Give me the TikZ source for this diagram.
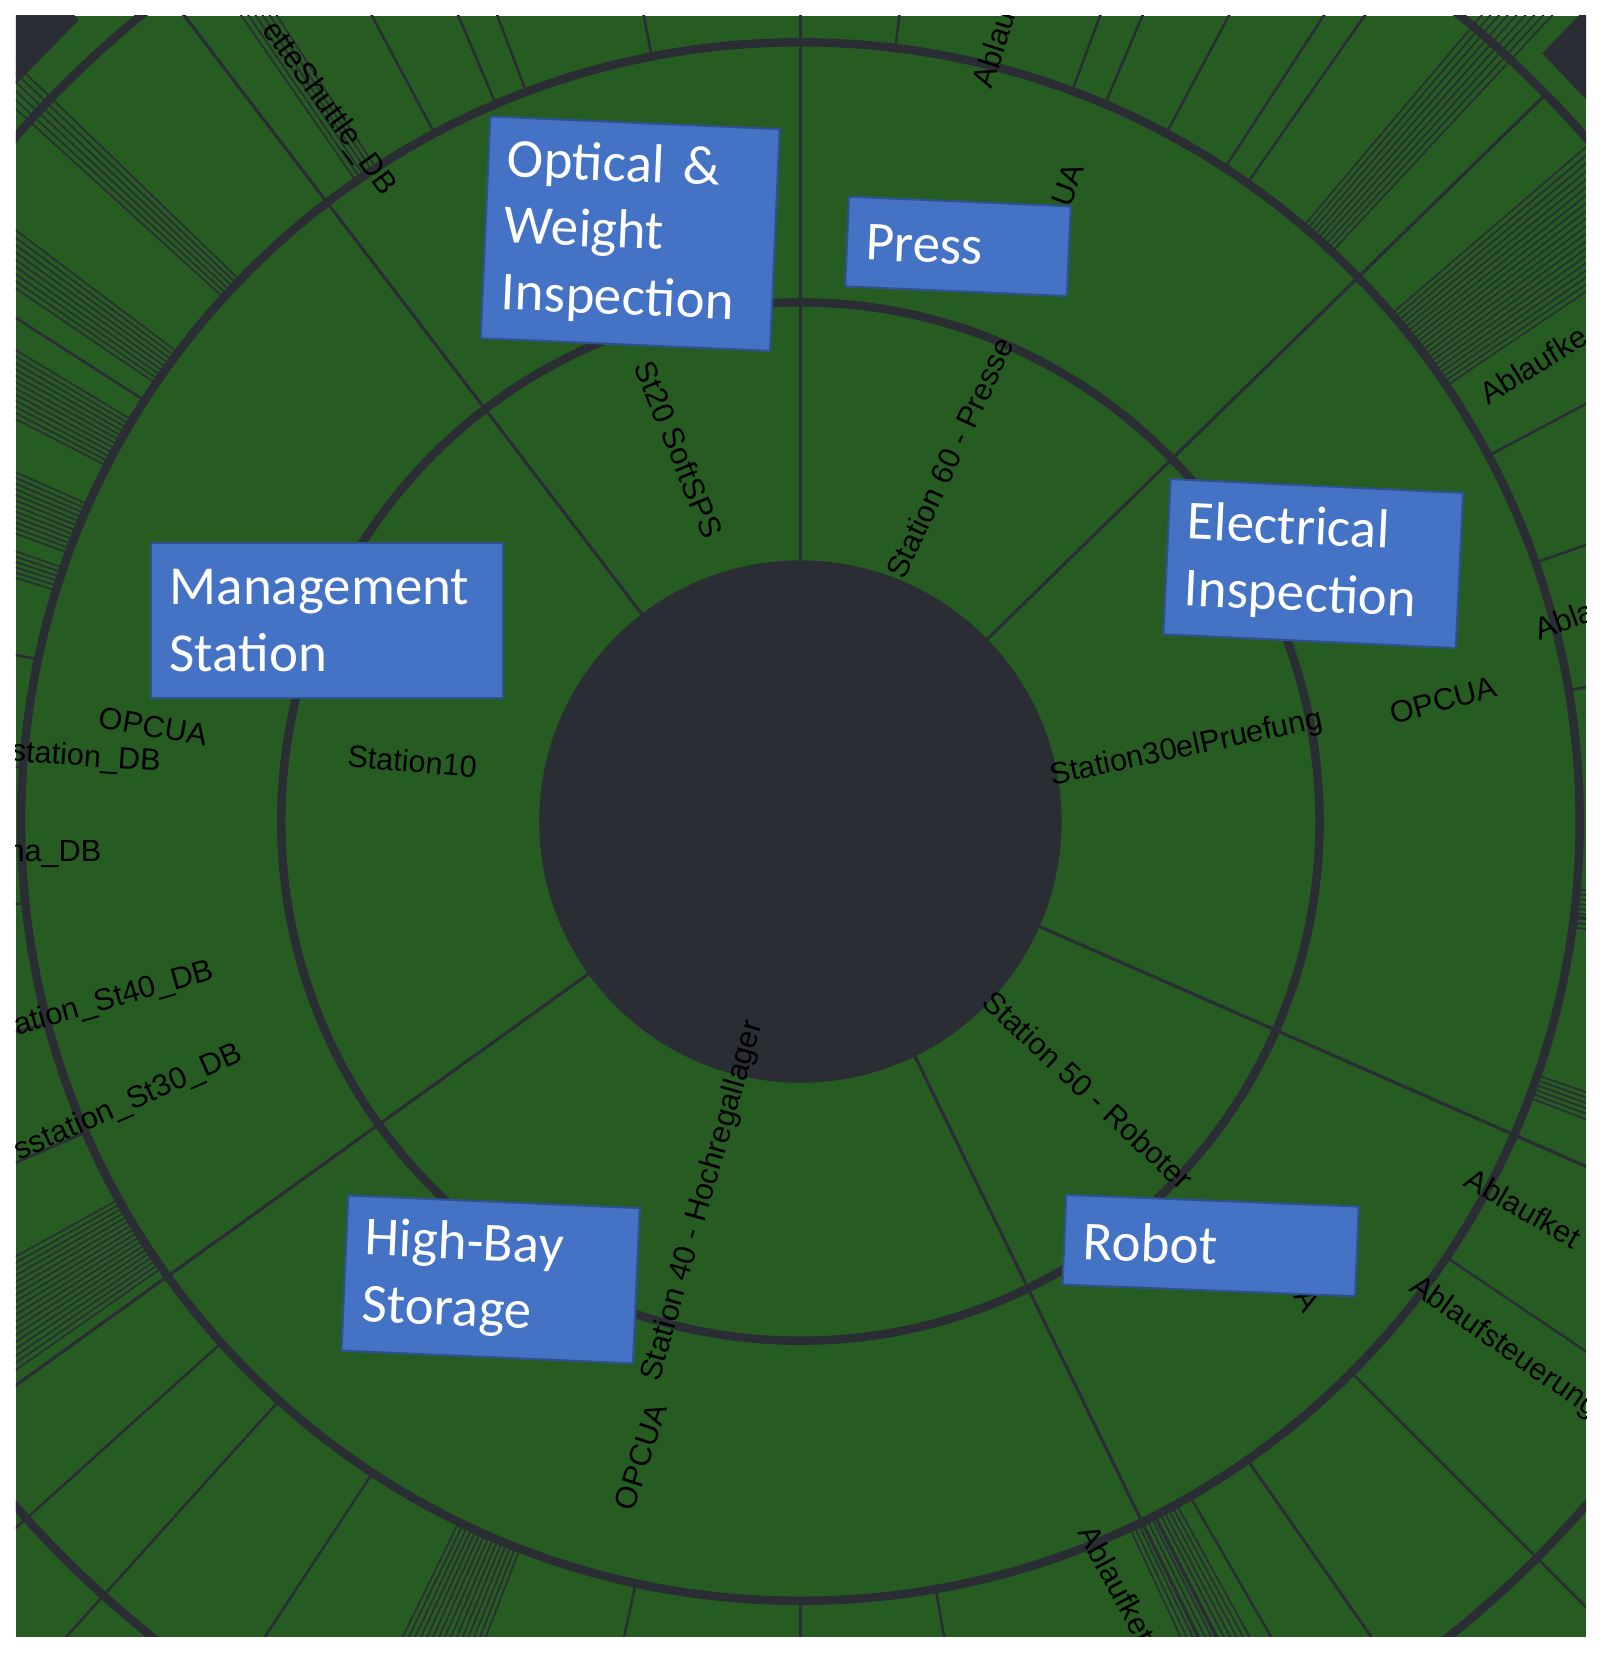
\documentclass[tikz,border=0pt]{standalone}
\usepackage{fontspec}
\setmainfont{Liberation Sans}
\newfontfamily\boxfont{Carlito}
\definecolor{gr}{HTML}{265C22}
\definecolor{dk}{HTML}{2A2D34}
\definecolor{bl}{HTML}{4472C4}
\definecolor{bb}{HTML}{2F528F}
\begin{document}
\begin{tikzpicture}[x=1pt,y=-1pt,
  ring/.style={draw=dk,line width=8pt},
  div/.style={draw=dk,line width=3pt},
  thin/.style={draw=dk,line width=2.4pt},
  lbl/.style={font=\fontsize{29}{33}\selectfont,text=black,inner sep=0pt},
  bx/.style={fill=bl,draw=bb,line width=2pt,text=white,align=left,anchor=center,
    font=\boxfont\fontsize{52}{63}\selectfont,inner xsep=18pt,inner ysep=0pt}]
\useasboundingbox (0,0) rectangle (1520,1570);
\fill[white] (0,0) rectangle (1520,1570);
\begin{scope}
\clip (15,15) rectangle (1500,1548);
\fill[gr] (15,15) rectangle (1500,1548);
\coordinate (c) at (757,777);
% dark corner wedges beyond outer ring
\fill[dk] ({757+1020*cos(132)},{777-1020*sin(132)}) -- ({757+1200*cos(132)},{777-1200*sin(132)}) -- ({757+1200*cos(139)},{777-1200*sin(139)}) -- ({757+1020*cos(139)},{777-1020*sin(139)}) -- cycle;
\fill[dk] ({757+1010*cos(41)},{777-1010*sin(41)}) -- ({757+1200*cos(41)},{777-1200*sin(41)}) -- ({757+1200*cos(46)},{777-1200*sin(46)}) -- ({757+1010*cos(46)},{777-1010*sin(46)}) -- cycle;
% thin lines in outer rings
\foreach \a in {110.6,113,101,83,69.6,67,62,57,55,147.3,168,195,203.5,222,236.7,257.8,297,305,19.4,9.7,-7,-34,118,176,186,228,270,280,-45,-55,-60,28}
  \draw[thin] ({757+735*cos(\a)},{777-735*sin(\a)}) -- ({757+1150*cos(\a)},{777-1150*sin(\a)});
\foreach \s/\e in {143/146,149/153,156/160,161/163,209/215,244/249,295/299,34/41,47/50,-19/-21,-5/-8,123/125,136/138}
  \foreach \a in {\s,\s.35,...,\e}
    \draw[dk,line width=1.6pt] ({757+735*cos(\a)},{777-735*sin(\a)}) -- ({757+1150*cos(\a)},{777-1150*sin(\a)});
% rings
\draw[ring] (c) circle[radius=985pt];
\draw[ring] (c) circle[radius=737pt];
\draw[ring] (c) circle[radius=491pt];
% station dividers
\foreach \a in {127.4,90,44.3,-23.7,-64,215.7}
  \draw[div] ({757+247*cos(\a)},{777-247*sin(\a)}) -- ({757+985*cos(\a)},{777-985*sin(\a)});
\fill[dk] (c) circle[radius=247pt];
% labels
\node[lbl,rotate=-68] (l1) at (642,425) {St20 SoftSPS};
\node[lbl,rotate=65] (l2) at (898,433) {Station 60 - Presse};
\node[lbl,rotate=12] (l3) at (1122,708) {Station30elPruefung};
\node[lbl,rotate=-43] (l4) at (1029,1031) {Station 50 - Roboter};
\node[lbl,rotate=74] (l5) at (665,1136) {Station 40 - Hochregallager};
\node[lbl,rotate=-5] (l6) at (390,720) {Station10};
\node[lbl,rotate=-10] (o1) at (145,687) {OPCUA};
\node[lbl,rotate=15] (o2) at (1365,662) {OPCUA};
\node[lbl,rotate=72] (o3) at (606,1378) {OPCUA};
\node[lbl,rotate=70] (o4) at (1010,175) {UA};
\node[lbl,rotate=-60] (o5) at (1237,1230) {A};
\node[lbl,rotate=-54,anchor=east] (e1) at (368,182) {etteShuttle\_DB};
\node[lbl,rotate=72,anchor=west] (e2) at (928,82) {Ablau};
\node[lbl,rotate=32,anchor=west] (e3) at (1402,375) {Ablaufke};
\node[lbl,rotate=20,anchor=west] (e4) at (1452,596) {Abla};
\node[lbl,rotate=-4,anchor=east] (e5) at (152,722) {station\_DB};
\node[lbl,anchor=east] (e6) at (96,808) {na\_DB};
\node[lbl,rotate=16,anchor=east] (e7) at (202,918) {ation\_St40\_DB};
\node[lbl,rotate=24,anchor=east] (e8) at (228,996) {sstation\_St30\_DB};
\node[lbl,rotate=-30,anchor=west] (e9) at (1388,1112) {Ablaufket};
\node[lbl,rotate=-35,anchor=west] (e10) at (1336,1214) {Ablaufsteuerung};
\node[lbl,rotate=-62,anchor=west] (e11) at (1028,1444) {Ablaufket};
\end{scope}
% blue boxes
\node[bx,rotate=-2.5,minimum width=274pt,minimum height=210pt,text width=238pt] (b1) at (596,221) {Optical \&\\Weight\\Inspection};
\node[bx,rotate=-2.5,minimum width=210pt,minimum height=85pt,text width=174pt] (b2) at (906,233) {Press};
\node[bx,rotate=-2.7,minimum width=277pt,minimum height=147pt,text width=241pt] (b3) at (1242,533) {Electrical\\Inspection};
\node[bx,minimum width=333pt,minimum height=147pt,text width=297pt] (b4) at (309,587) {Management\\Station};
\node[bx,rotate=-2.5,minimum width=276pt,minimum height=147pt,text width=240pt] (b5) at (464,1210) {High-Bay\\Storage};
\node[bx,rotate=-2.3,minimum width=277pt,minimum height=85pt,text width=241pt] (b6) at (1145,1178) {Robot};
\end{tikzpicture}
\end{document}
